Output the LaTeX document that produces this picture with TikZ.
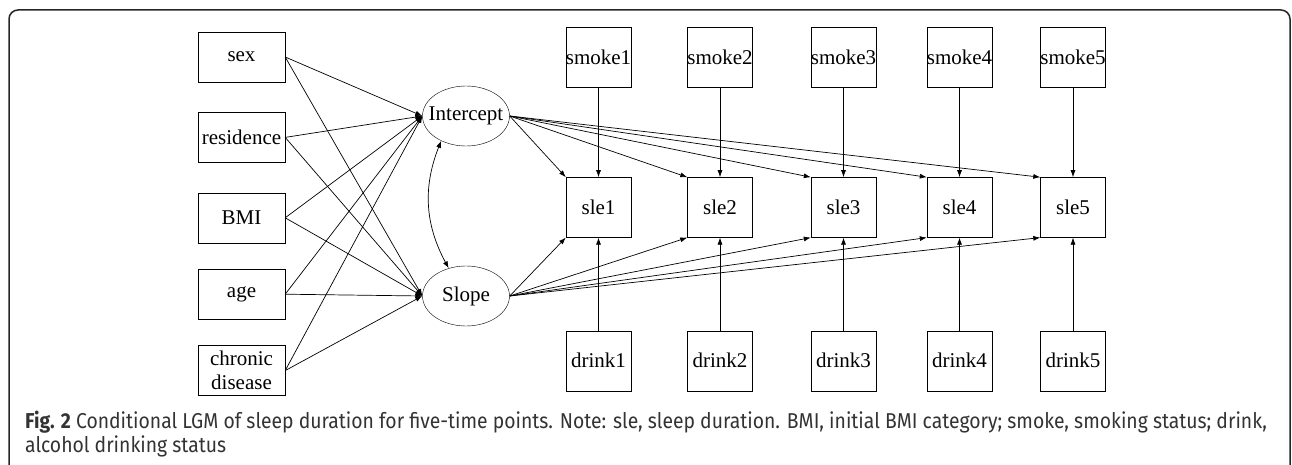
\documentclass[tikz,border=0pt]{standalone}
\usepackage{fontspec}
\setmainfont{Liberation Serif}
\newfontfamily\capfont[FakeStretch=0.9]{Fira Sans}
\usepackage{tikz}
\usetikzlibrary{positioning,shapes.geometric,arrows.meta}

\begin{document}
\begin{tikzpicture} [
	x=1pt,y=1pt,
	node distance=30pt,
	font=\fontsize{21}{24}\selectfont,
	cov/.style={
		rectangle,draw,inner sep=0pt,align=center,
		minimum width=87pt,minimum height=50pt},
	obs/.style={
		rectangle,draw,inner sep=0pt,
		minimum width=65pt,minimum height=60pt},
	latent/.style={
		ellipse,draw,inner sep=0pt,
		minimum width=87pt,minimum height=60pt},
	tip/.style={
		-{Latex[length=7pt,width=5pt]},line width=0.7pt},
	both/.style={
		{Latex[length=7pt,width=5pt]}-{Latex[length=7pt,width=5pt]},line width=0.7pt},
	frame/.style={
		draw=black!85,line width=1.5pt,rounded corners=9pt},
	caption/.style={
		anchor=base west,inner sep=0pt,align=left,text=black!80,
		font=\capfont\fontsize{21.5}{24}\selectfont}]
\useasboundingbox (0,0) rectangle (1292,-465);
\draw[frame] (9,-470) -- (9,-10) -- (1290,-10) -- (1290,-470);
% covariates
\node [cov]	(sex) at (241.5,-57)		{sex};
\node [cov]	(residence) [below=of sex]	{residence};
\node [cov]	(BMI) [below=of residence]	{BMI};
\node [cov]	(age) [below=26pt of BMI]	{age};
\node [cov]	(chronic disease) [below=26pt of age]	{chronic\\disease};
% growth factors
\node [latent]	(Intercept) at (466,-116)	{\makebox[0pt]{Intercept}};
\node [latent]	(Slope) at (466,-296)	{\makebox[0pt]{Slope}};
% time points
\node [obs]	(smoke1) at (598.5,-57)	{smoke1};
\node [obs]	(smoke2) at (720,-57)	{smoke2};
\node [obs]	(smoke3) at (843.5,-57)	{smoke3};
\node [obs]	(smoke4) at (959.5,-57)	{smoke4};
\node [obs]	(smoke5) at (1073,-57)	{smoke5};
\node [obs]	(sle1) [below=90pt of smoke1]	{sle1};
\node [obs]	(sle2) [below=90pt of smoke2]	{sle2};
\node [obs]	(sle3) [below=90pt of smoke3]	{sle3};
\node [obs]	(sle4) [below=90pt of smoke4]	{sle4};
\node [obs]	(sle5) [below=90pt of smoke5]	{sle5};
\node [obs]	(drink1) [below=93pt of sle1]	{drink1};
\node [obs]	(drink2) [below=93pt of sle2]	{drink2};
\node [obs]	(drink3) [below=93pt of sle3]	{drink3};
\node [obs]	(drink4) [below=93pt of sle4]	{drink4};
\node [obs]	(drink5) [below=93pt of sle5]	{drink5};
% covariates -> growth factors
\draw[tip] (sex.east) -- (Intercept.west);
\draw[tip] (sex.east) -- (Slope.west);
\draw[tip] (residence.east) -- (Intercept.west);
\draw[tip] (residence.east) -- (Slope.west);
\draw[tip] (BMI.east) -- (Intercept.west);
\draw[tip] (BMI.east) -- (Slope.west);
\draw[tip] (age.east) -- (Intercept.west);
\draw[tip] (age.east) -- (Slope.west);
\draw[tip] (chronic disease.east) -- (Intercept.west);
\draw[tip] (chronic disease.east) -- (Slope.west);
\draw[both] (Intercept.225) to[bend right=25] (Slope.122);
% growth factors -> sle
\draw[tip] (Intercept.east) -- (sle1.north west);
\draw[tip] (Intercept.east) -- (sle2.north west);
\draw[tip] (Intercept.east) -- (sle3.north west);
\draw[tip] (Intercept.east) -- (sle4.north west);
\draw[tip] (Intercept.east) -- (sle5.north west);
\draw[tip] (Slope.east) -- (sle1.south west);
\draw[tip] (Slope.east) -- (sle2.south west);
\draw[tip] (Slope.east) -- (sle3.south west);
\draw[tip] (Slope.east) -- (sle4.south west);
\draw[tip] (Slope.east) -- (sle5.south west);
% time-varying covariates
\draw[tip] (smoke1.south) -- (sle1.north);
\draw[tip] (smoke2.south) -- (sle2.north);
\draw[tip] (smoke3.south) -- (sle3.north);
\draw[tip] (smoke4.south) -- (sle4.north);
\draw[tip] (smoke5.south) -- (sle5.north);
\draw[tip] (drink1.north) -- (sle1.south);
\draw[tip] (drink2.north) -- (sle2.south);
\draw[tip] (drink3.north) -- (sle3.south);
\draw[tip] (drink4.north) -- (sle4.south);
\draw[tip] (drink5.north) -- (sle5.south);
\node [caption]	(caption) at (25,-452)	{\textbf{Fig. 2} Conditional LGM of sleep duration for five-time points. Note: sle, sleep duration. BMI, initial BMI category; smoke, smoking status; drink,\\alcohol drinking status};
\end{tikzpicture}
\end{document}
